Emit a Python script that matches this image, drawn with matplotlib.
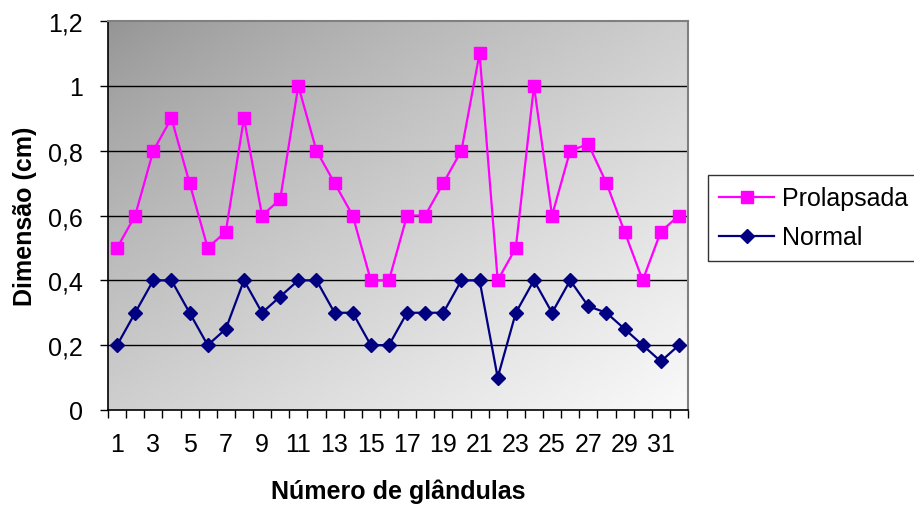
import numpy as np
import matplotlib
matplotlib.use("Agg")
import matplotlib.pyplot as plt
from matplotlib.ticker import FixedLocator

glandulas = list(range(1, 33))
prolapsada = [0.5, 0.6, 0.8, 0.9, 0.7, 0.5, 0.55, 0.9, 0.6, 0.65, 1.0, 0.8, 0.7, 0.6, 0.4, 0.4,
              0.6, 0.6, 0.7, 0.8, 1.1, 0.4, 0.5, 1.0, 0.6, 0.8, 0.82, 0.7, 0.55, 0.4, 0.55, 0.6]
normal = [0.2, 0.3, 0.4, 0.4, 0.3, 0.2, 0.25, 0.4, 0.3, 0.35, 0.4, 0.4, 0.3, 0.3, 0.2, 0.2,
          0.3, 0.3, 0.3, 0.4, 0.4, 0.1, 0.3, 0.4, 0.3, 0.4, 0.32, 0.3, 0.25, 0.2, 0.15, 0.2]
y_ticks = [0, 0.2, 0.4, 0.6, 0.8, 1.0, 1.2]
y_labels = ["0", "0,2", "0,4", "0,6", "0,8", "1", "1,2"]
x_labels = [str(i) for i in range(1, 33, 2)]

plt.rcParams['font.family'] = ['Liberation Sans', 'DejaVu Sans']
FS = 18

fig = plt.figure(figsize=(9.14, 5.10), dpi=100)
W, H = 914, 510
ax = fig.add_axes([108 / W, 1 - 411 / H, (688 - 108) / W, (411 - 22) / H])

# gradient background (dark top-left to light bottom-right)
n = 200
gx, gy = np.meshgrid(np.linspace(0, 1, n), np.linspace(0, 1, n))
t = (gx * 0.5 + gy * 0.5) ** 0.8
c0, c1 = 0.58, 0.98
grad = c0 + (c1 - c0) * t
rgb = np.dstack([grad, grad, grad])
ax.imshow(rgb, extent=[0.5, 32.5, 0, 1.2], aspect='auto', zorder=0, origin='upper')

ax.set_xlim(0.5, 32.5)
ax.set_ylim(0, 1.2)

for yv in y_ticks[1:-1]:
    ax.axhline(yv, color='black', lw=1.0, zorder=1)

ax.plot(glandulas, prolapsada, color='#FF00FF', lw=1.6, marker='s', ms=8,
        markerfacecolor='#FF00FF', markeredgecolor='#FF00FF', label='Prolapsada', zorder=3)
ax.plot(glandulas, normal, color='#000080', lw=1.6, marker='D', ms=7.5,
        markerfacecolor='#000080', markeredgecolor='#000080', label='Normal', zorder=3)

ax.set_yticks(y_ticks)
ax.set_yticklabels(y_labels)
ax.xaxis.set_major_locator(FixedLocator(list(range(1, 33, 2))))
ax.set_xticklabels(x_labels)
ax.xaxis.set_minor_locator(FixedLocator([i + 0.5 for i in range(0, 33)]))
ax.tick_params(axis='x', which='major', length=0, labelsize=FS, pad=16)
ax.tick_params(axis='x', which='minor', length=6, width=1, color='black')
ax.tick_params(axis='y', length=6, width=1, labelsize=FS, pad=12)

for s in ['left', 'bottom']:
    ax.spines[s].set_color('black')
    ax.spines[s].set_linewidth(1.2)
for s in ['top', 'right']:
    ax.spines[s].set_color('#808080')
    ax.spines[s].set_linewidth(1.5)

ax.set_ylabel('Dimensão (cm)', fontsize=FS, fontweight='bold', labelpad=8)
ax.set_xlabel('Número de glândulas', fontsize=FS, fontweight='bold', labelpad=16)

leg = fig.legend(loc='upper left', bbox_to_anchor=(708 / W, 1 - 176 / H), frameon=True,
                 fontsize=FS, fancybox=False, edgecolor='black', handlelength=2.2,
                 borderpad=0.45, labelspacing=0.6, handletextpad=0.3, borderaxespad=0)
leg.get_frame().set_linewidth(1.0)

fig.savefig('out.png', dpi=100)
